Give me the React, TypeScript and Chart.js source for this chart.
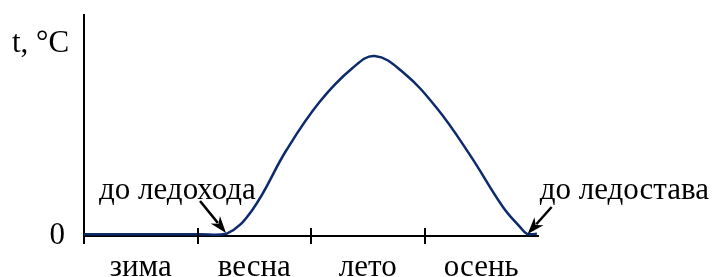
import React, { useEffect, useRef } from "react";
import { Chart, registerables } from "chart.js";

Chart.register(...registerables);

// Curve: water temperature over the year (x in seasons, y in relative units)
const curveX = [0, 1.015, 1.254, 1.483, 1.784, 2.075, 2.366, 2.561, 2.808, 3.108, 3.4, 3.691, 3.841, 3.903, 3.99];
const curveY = [0.08, 0.08, 0.1, 1.18, 3.89, 6.06, 7.6, 8.14, 7.42, 5.79, 3.67, 1.31, 0.41, 0.1, 0.1];

const seasonLabels = ["зима", "весна", "лето", "осень"];
const seasonPositions = [0.5, 1.5, 2.5, 3.5];
const tickMarks = [1, 2, 3];
const yTicks = [0];

const yTitle = "t, °C";
const iceBreakLabel = "до ледохода";
const freezeLabel = "до ледостава";
const iceBreakX = 1.26;
const freezeX = 3.9;

const FONT = "Liberation Serif, Times New Roman, serif";
const FONT_SIZE = 31;
const LINE_COLOR = "#0c2a6c";

function drawArrow(ctx: CanvasRenderingContext2D, x1: number, y1: number, x2: number, y2: number) {
  const ang = Math.atan2(y2 - y1, x2 - x1);
  const headLen = 17;
  const headW = 6;
  const bx = x2 - headLen * Math.cos(ang);
  const by = y2 - headLen * Math.sin(ang);
  ctx.save();
  ctx.strokeStyle = "#000";
  ctx.fillStyle = "#000";
  ctx.lineWidth = 2.5;
  ctx.beginPath();
  ctx.moveTo(x1, y1);
  ctx.lineTo(bx + 4 * Math.cos(ang), by + 4 * Math.sin(ang));
  ctx.stroke();
  const px = -Math.sin(ang);
  const py = Math.cos(ang);
  ctx.beginPath();
  ctx.moveTo(x2, y2);
  ctx.lineTo(bx + px * headW, by + py * headW);
  ctx.lineTo(bx + 5 * Math.cos(ang), by + 5 * Math.sin(ang));
  ctx.lineTo(bx - px * headW, by - py * headW);
  ctx.closePath();
  ctx.fill();
  ctx.restore();
}

const decorPlugin = {
  id: "decor",
  afterDraw(chart: any) {
    const ctx: CanvasRenderingContext2D = chart.ctx;
    const xs = chart.scales.x;
    const ys = chart.scales.y;
    const y0 = ys.getPixelForValue(0);
    ctx.save();
    ctx.strokeStyle = "#000";
    ctx.lineWidth = 2;
    tickMarks.forEach((v) => {
      const px = Math.round(xs.getPixelForValue(v));
      ctx.beginPath();
      ctx.moveTo(px, y0 - 8);
      ctx.lineTo(px, y0 + 8);
      ctx.stroke();
    });
    const ox = Math.round(xs.getPixelForValue(0));
    ctx.beginPath();
    ctx.moveTo(ox, y0);
    ctx.lineTo(ox, y0 + 8);
    ctx.stroke();

    ctx.fillStyle = "#000";
    ctx.font = `${FONT_SIZE}px ${FONT}`;
    ctx.textBaseline = "alphabetic";
    ctx.textAlign = "left";
    ctx.fillText(yTitle, 12, 52);

    const ax = xs.getPixelForValue(iceBreakX);
    ctx.fillText(iceBreakLabel, ax - 128, y0 - 37);
    drawArrow(ctx, ax - 27, y0 - 35, ax - 1, y0 - 3);

    const fx = xs.getPixelForValue(freezeX);
    ctx.fillText(freezeLabel, fx + 13, y0 - 37);
    drawArrow(ctx, fx + 25, y0 - 29, fx + 1, y0 - 2);
    ctx.restore();
  },
};

export default function App() {
  const ref = useRef<HTMLCanvasElement | null>(null);
  useEffect(() => {
    if (!ref.current) return;
    const chart = new Chart(ref.current, {
      type: "line",
      data: {
        datasets: [
          {
            data: curveX.map((x, i) => ({ x, y: curveY[i] })),
            borderColor: LINE_COLOR,
            borderWidth: 2.5,
            pointRadius: 0,
            fill: false,
            tension: 0.4,
          },
        ],
      },
      options: {
        animation: false,
        responsive: false,
        events: [],
        layout: { padding: { left: 0, right: 177, top: 15, bottom: 0 } },
        plugins: { legend: { display: false }, tooltip: { enabled: false } },
        scales: {
          x: {
            type: "linear",
            min: 0,
            max: 4,
            grid: { display: false },
            border: { display: true, color: "#000", width: 2 },
            afterBuildTicks: (s: any) => {
              s.ticks = seasonPositions.map((v) => ({ value: v }));
            },
            afterFit: (s: any) => {
              s.height = 41;
              s.paddingLeft = 0;
              s.paddingRight = 0;
            },
            ticks: {
              autoSkip: false,
              maxRotation: 0,
              padding: 5,
              color: "#000",
              font: { family: FONT, size: FONT_SIZE },
              callback: (v: any) => seasonLabels[seasonPositions.indexOf(Number(v))] ?? "",
            },
          },
          y: {
            type: "linear",
            min: 0,
            max: 10,
            grid: { display: false },
            border: { display: true, color: "#000", width: 2 },
            afterBuildTicks: (s: any) => {
              s.ticks = yTicks.map((v) => ({ value: v }));
            },
            afterFit: (s: any) => {
              s.width = 84;
              s.paddingTop = 0;
              s.paddingBottom = 0;
            },
            ticks: {
              padding: 11,
              color: "#000",
              font: { family: FONT, size: FONT_SIZE },
              callback: (v: any) => String(v),
            },
          },
        },
      },
      plugins: [decorPlugin],
    } as any);
    return () => chart.destroy();
  }, []);
  return (
    <div style={{ position: "absolute", left: 0, top: 0, width: 715, height: 277, background: "#fff" }}>
      <canvas ref={ref} width={715} height={277} />
    </div>
  );
}
